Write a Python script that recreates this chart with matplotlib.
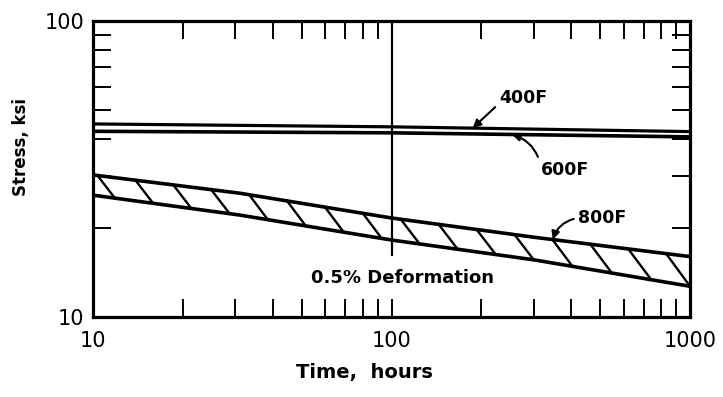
import numpy as np
import matplotlib
matplotlib.use('Agg')
import matplotlib.pyplot as plt

# data (log-log)
hours = [10, 100, 1000]
stress_400F = [44.9, 43.9, 42.3]
stress_600F = [42.4, 41.9, 40.6]

hours_800F = [10, 31, 100, 300, 1000]
stress_800F_hi = [30.2, 26.2, 21.6, 18.6, 16.0]
stress_800F_lo = [25.8, 22.1, 18.2, 15.6, 12.7]

x_ticks = [10, 100, 1000]
x_labels = ['10', '100', '1000']
y_ticks = [10, 100]
y_labels = ['10', '100']


def on_line(x, xs, ys):
    # value of a log-log polyline at x
    return 10 ** np.interp(np.log10(x), np.log10(xs), np.log10(ys))


fig = plt.figure(figsize=(7.23, 3.97), dpi=100)
ax = fig.add_axes([93/723, 80/397, 597/723, 296/397])
ax.set_xscale('log')
ax.set_yscale('log')
ax.set_xlim(10, 1000)
ax.set_ylim(10, 100)

ax.plot(hours, stress_400F, color='k', lw=2.3, solid_capstyle='butt')
ax.plot(hours, stress_600F, color='k', lw=2.6, solid_capstyle='butt')
ax.plot(hours_800F, stress_800F_hi, color='k', lw=2.6)
ax.plot(hours_800F, stress_800F_lo, color='k', lw=2.6)

# hand drawn hatching inside the 800F band
lx = np.log10(hours_800F)
lhi = np.log10(stress_800F_hi)
llo = np.log10(stress_800F_lo)
for x0 in np.arange(1.015, 2.97, 0.127):
    y0 = np.interp(x0, lx, lhi)
    thick = y0 - np.interp(x0, lx, llo)
    x1 = min(x0 + 0.85 * thick, 3.0)
    y1 = np.interp(x1, lx, llo)
    ax.plot([10 ** x0, 10 ** x1], [10 ** y0, 10 ** y1], color='k', lw=1.7)

# vertical line at 100 hours, stops above the label
ax.axvline(100, ymin=0.21, ymax=1, color='k', lw=1.6)

for s in ax.spines.values():
    s.set_linewidth(2.3)

ax.set_xticks(x_ticks)
ax.set_xticklabels(x_labels)
ax.set_yticks(y_ticks)
ax.set_yticklabels(y_labels)
ax.tick_params(which='both', direction='in', top=True, right=True,
               length=13, width=1.4)
ax.tick_params(axis='x', which='major', pad=10, labelsize=15)
ax.tick_params(axis='y', which='major', pad=6, labelsize=15)
ax.tick_params(which='minor', labelbottom=False, labelleft=False)

ax.set_xlabel('Time,  hours', fontsize=14, fontweight='bold')
ax.xaxis.set_label_coords(0.454, -0.155)
ax.set_ylabel('Stress, ksi', fontsize=12, fontweight='bold')
ax.yaxis.set_label_coords(-0.105, 0.574)

lab = dict(fontsize=12.5, fontweight='bold', ha='center', va='center')
arr = dict(arrowstyle='-|>', color='k', lw=1.5, mutation_scale=12,
           shrinkA=1, shrinkB=0)

ax.annotate('400F', xy=(187, on_line(187, hours, stress_400F)),
            xytext=(276, 54.9),
            arrowprops=dict(arr, relpos=(0, 0.2)), **lab)
ax.annotate('600F', xy=(253, on_line(253, hours, stress_600F)),
            xytext=(381, 31.4),
            arrowprops=dict(arr, relpos=(0, 0.7),
                            connectionstyle='arc3,rad=0.3'), **lab)
ax.annotate('800F', xy=(347, on_line(347, hours_800F, stress_800F_hi)),
            xytext=(507, 21.6),
            arrowprops=dict(arr, relpos=(0, 0.5),
                            connectionstyle='arc3,rad=0.3'), **lab)
ax.text(109, 13.5, '0.5% Deformation', fontsize=13, fontweight='bold',
        ha='center', va='center')

fig.savefig('out.png', dpi=100)
